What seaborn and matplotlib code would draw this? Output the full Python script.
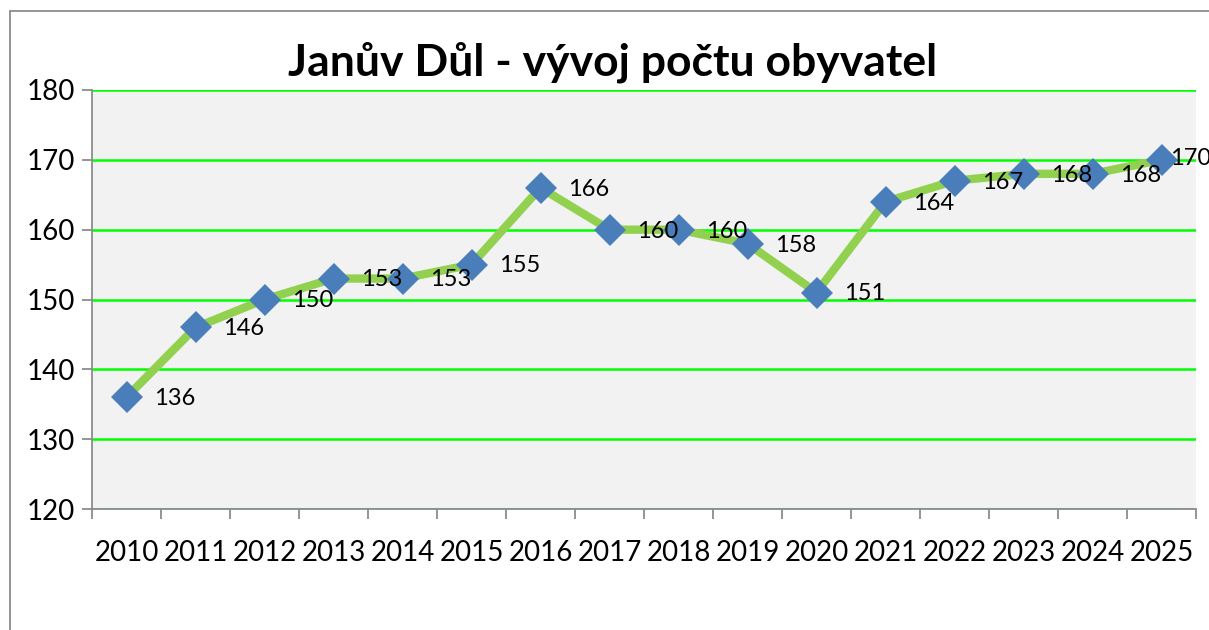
import numpy as np
import matplotlib
matplotlib.use("Agg")
import matplotlib.pyplot as plt
import seaborn as sns
from matplotlib.lines import Line2D

years = ["2010", "2011", "2012", "2013", "2014", "2015", "2016", "2017",
         "2018", "2019", "2020", "2021", "2022", "2023", "2024", "2025"]
population = [136, 146, 150, 153, 153, 155, 166, 160, 160, 158, 151, 164, 167, 168, 168, 170]
y_ticks = [120, 130, 140, 150, 160, 170, 180]
title = "Janův Důl - vývoj počtu obyvatel"

sns.set_theme(style="white")
plt.rcParams["font.family"] = ["Lato", "DejaVu Sans"]
plt.rcParams["text.color"] = "black"
plt.rcParams["xtick.color"] = "black"
plt.rcParams["ytick.color"] = "black"

W, H = 1209, 630
fig = plt.figure(figsize=(W / 100, H / 100), dpi=100)
fig.patch.set_facecolor("white")
ax = fig.add_axes([92 / W, 1 - 509 / H, (1196 - 92) / W, (509 - 90) / H])
ax.set_facecolor("#F2F2F2")

# outer chart border (left and top visible)
fig.add_artist(Line2D([10 / W, 10 / W], [0, 1 - 11 / H], transform=fig.transFigure,
                      color="#8C8C8C", lw=1.3))
fig.add_artist(Line2D([10 / W, 1], [1 - 11 / H, 1 - 11 / H], transform=fig.transFigure,
                      color="#8C8C8C", lw=1.3))

pos = np.arange(len(years))
sns.lineplot(x=pos, y=population, ax=ax, color="#92D050", linewidth=6,
             marker="D", markersize=16.5, markerfacecolor="#4A7EBB",
             markeredgecolor="#4A7EBB", markeredgewidth=0, zorder=3)

n = len(population)
for i, (xi, v) in enumerate(zip(pos, population)):
    off = (20, -1) if i < n - 1 else (6, 1)
    ax.annotate(str(v), (xi, v), xytext=off, textcoords="offset points",
                ha="left", va="center", fontsize=17, color="black", zorder=4,
                annotation_clip=False)

ax.set_xlim(-0.5, len(years) - 0.5)
ax.set_ylim(120, 180)
ax.set_yticks(y_ticks)
ax.set_yticklabels([str(t) for t in y_ticks], fontsize=20)
ax.set_xticks(pos)
ax.set_xticklabels(years, fontsize=20)
ax.set_xticks(np.arange(-0.5, len(years), 1.0), minor=True)
ax.tick_params(axis="x", which="major", length=0, pad=22, labelcolor="black")
ax.tick_params(axis="x", which="minor", length=7, width=1.3, color="#8C8C8C", direction="out",
               bottom=True)
ax.tick_params(axis="y", which="major", length=7, width=1.3, color="#8C8C8C", direction="out",
               left=True, pad=5, labelcolor="black")

ax.grid(axis="y", color="#00FF00", linewidth=1.8)
ax.set_axisbelow(True)
for s in ["top", "right"]:
    ax.spines[s].set_visible(False)
for s in ["left", "bottom"]:
    ax.spines[s].set_color("#8C8C8C")
    ax.spines[s].set_linewidth(1.3)
ax.set_xlabel("")
ax.set_ylabel("")

fig.text(613 / W, 1 - 62 / H, title, ha="center", va="center", fontsize=32,
         fontweight="bold", color="black")

fig.savefig("out.png", dpi=100)
